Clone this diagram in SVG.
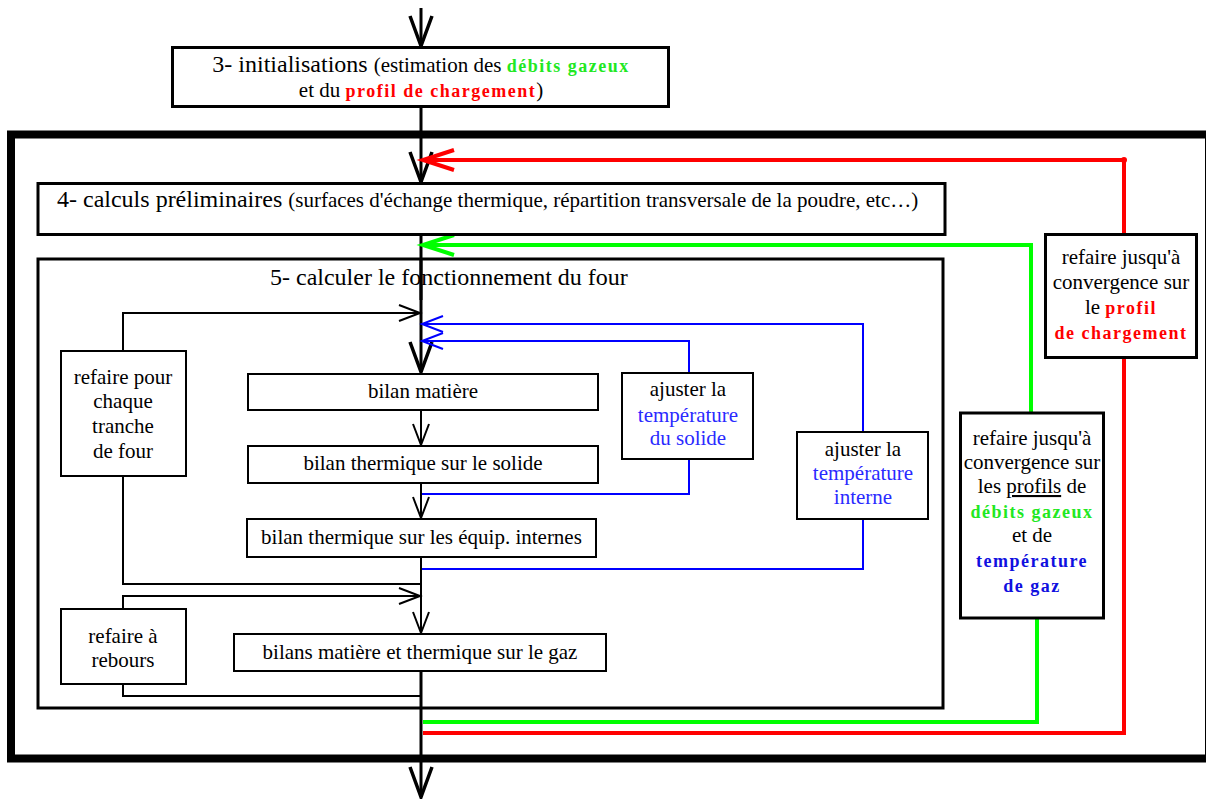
<svg xmlns="http://www.w3.org/2000/svg" width="1206" height="799" viewBox="0 0 1206 799" font-family="'Liberation Serif', 'DejaVu Serif', serif">
<style>
text{font-family:'Liberation Serif','DejaVu Serif',serif;font-size:21px;fill:#000}
.big{font-size:24px}
.mid{font-size:21px}
.c{text-anchor:middle}
.bg{font-weight:bold;fill:#22e822;font-size:18px;letter-spacing:1.5px}
.br{font-weight:bold;fill:#ff0000;font-size:18px;letter-spacing:1.5px}
.bb{font-weight:bold;fill:#1010e0;font-size:18px;letter-spacing:1.5px}
.blt{fill:#2a2aff}
.box{fill:#fff;stroke:#000;stroke-width:2}
.boxt{fill:#fff;stroke:#000;stroke-width:3}
.ln{fill:none;stroke:#000;stroke-width:2}
.main{fill:none;stroke:#000;stroke-width:3}
.red{fill:none;stroke:#ff0000;stroke-width:4}
.grn{fill:none;stroke:#00ff00;stroke-width:4}
.blu{fill:none;stroke:#0000ff;stroke-width:2}
</style>
<defs>
<marker id="vk" markerUnits="userSpaceOnUse" orient="auto" markerWidth="40" markerHeight="40" refX="0" refY="0" overflow="visible"><path d="M-30,-11 L0,0 L-30,11" fill="none" stroke="#000" stroke-width="3.5"/></marker>
<marker id="vn" markerUnits="userSpaceOnUse" orient="auto" markerWidth="30" markerHeight="30" refX="0" refY="0" overflow="visible"><path d="M-21,-8 L0,0 L-21,8" fill="none" stroke="#000" stroke-width="2"/></marker>
<marker id="vr" markerUnits="userSpaceOnUse" orient="auto" markerWidth="40" markerHeight="40" refX="0" refY="0" overflow="visible"><path d="M-31,-10 L0,0 L-31,10" fill="none" stroke="#ff0000" stroke-width="4"/></marker>
<marker id="vg" markerUnits="userSpaceOnUse" orient="auto" markerWidth="40" markerHeight="40" refX="0" refY="0" overflow="visible"><path d="M-31,-10 L0,0 L-31,10" fill="none" stroke="#00ff00" stroke-width="4"/></marker>
<marker id="vb" markerUnits="userSpaceOnUse" orient="auto" markerWidth="30" markerHeight="30" refX="0" refY="0" overflow="visible"><path d="M-21,-8 L0,0 L-21,8" fill="none" stroke="#0000ff" stroke-width="2"/></marker>
</defs>
<rect width="1206" height="799" fill="#fff"/>
<rect id="frame" x="11" y="134.5" width="1198" height="624" fill="none" stroke="#000" stroke-width="8"/>

<g id="connectors">
<path class="main" d="M421,8 V46" marker-end="url(#vk)"/>
<path class="main" d="M421,107 V182" marker-end="url(#vk)"/>
<path class="main" d="M421,235 V372" marker-end="url(#vk)"/>
<path class="ln" d="M421,410 V445" marker-end="url(#vn)"/>
<path class="ln" d="M421,483 V518" marker-end="url(#vn)"/>
<path class="ln" d="M421,557 V633" marker-end="url(#vn)"/>
<path class="main" d="M421,671 V797" marker-end="url(#vk)"/>
<path class="ln" d="M123,351 V313 H420" marker-end="url(#vn)"/>
<path class="ln" d="M123,476 V584 H421"/>
<path class="ln" d="M123,608 V596 H420" marker-end="url(#vn)"/>
<path class="ln" d="M123,684 V696 H421"/>
<path class="blu" d="M863,432 V324 H422" marker-end="url(#vb)"/>
<path class="blu" d="M689,372 V341 H422" marker-end="url(#vb)"/>
<path class="blu" d="M422,494 H689 V459"/>
<path class="blu" d="M422,569 H863 V519"/>
<path class="red" d="M1124,234 V160 H423" marker-end="url(#vr)"/>
<circle cx="1124" cy="160" r="3" fill="#ff0000"/>
<path class="red" d="M423,733 H1124 V358"/>
<path class="grn" d="M1031,412 V245 H423" marker-end="url(#vg)"/>
<path class="grn" d="M423,722 H1037 V619"/>
</g>

<g id="n3">
<rect class="boxt" x="172.5" y="47.5" width="496" height="59" stroke-width="3.5"/>
<text x="421" y="72" class="c mid"><tspan class="big">3- initialisations </tspan>(estimation des <tspan class="bg">débits gazeux</tspan></text>
<text x="421" y="97" class="c mid">et du <tspan class="br">profil de chargement</tspan>)</text>
</g>

<g id="n4">
<rect class="boxt" x="38" y="183.5" width="907" height="51"/>
<text x="57" y="207" class="mid"><tspan class="big">4- calculs préliminaires </tspan>(surfaces d'échange thermique, répartition transversale de la poudre, etc…)</text>
</g>

<g id="n5">
<rect x="38" y="259" width="905" height="449" fill="none" stroke="#000" stroke-width="3"/>
<text x="270" y="285" class="big">5- calculer le fonctionnement du four</text>
</g>
<path class="main" d="M421,259 V300"/>

<g id="n-tranche">
<rect class="box" x="61" y="351" width="125" height="125"/>
<text x="123" y="384" class="c">refaire pour</text>
<text x="123" y="408" class="c">chaque</text>
<text x="123" y="433" class="c">tranche</text>
<text x="123" y="458" class="c">de four</text>
</g>

<g id="n-matiere">
<rect class="box" x="248" y="374" width="350" height="36"/>
<text x="423" y="398" class="c">bilan matière</text>
</g>

<g id="n-solide">
<rect class="box" x="248" y="446" width="350" height="37"/>
<text x="423" y="470" class="c">bilan thermique sur le solide</text>
</g>

<g id="n-equip">
<rect class="box" x="247" y="519" width="349" height="38"/>
<text x="421.5" y="544" class="c">bilan thermique sur les équip. internes</text>
</g>

<g id="n-gaz">
<rect class="box" x="234" y="634" width="372" height="37"/>
<text x="420" y="659" class="c">bilans matière et thermique sur le gaz</text>
</g>

<g id="n-rebours">
<rect class="box" x="61" y="609" width="125" height="75"/>
<text x="123" y="643" class="c">refaire à</text>
<text x="123" y="667" class="c">rebours</text>
</g>

<g id="n-ajust1">
<rect class="box" x="622" y="373" width="131" height="86"/>
<text x="688" y="396" class="c">ajuster la</text>
<text x="688" y="422" class="c blt">température</text>
<text x="688" y="445" class="c blt">du solide</text>
</g>

<g id="n-ajust2">
<rect class="box" x="797" y="432" width="131" height="87"/>
<text x="863" y="456" class="c">ajuster la</text>
<text x="863" y="480" class="c blt">température</text>
<text x="863" y="504" class="c blt">interne</text>
</g>

<g id="n-conv-charge">
<rect class="boxt" x="1045.5" y="234.5" width="151" height="123"/>
<text x="1121" y="264" class="c">refaire jusqu'à</text>
<text x="1121" y="289" class="c">convergence sur</text>
<text x="1121" y="314" class="c">le <tspan class="br">profil</tspan></text>
<text x="1121" y="339" class="c br">de chargement</text>
</g>

<g id="n-conv-gaz">
<rect class="boxt" x="960.5" y="413" width="143" height="205" stroke-width="3.5"/>
<text x="1032" y="445" class="c">refaire jusqu'à</text>
<text x="1032" y="469" class="c">convergence sur</text>
<text x="1032" y="493" class="c">les <tspan text-decoration="underline">profils</tspan> de</text>
<text x="1032" y="518" class="c bg">débits gazeux</text>
<text x="1032" y="542" class="c">et de</text>
<text x="1032" y="567" class="c bb">température</text>
<text x="1032" y="592" class="c bb">de gaz</text>
</g>
</svg>
